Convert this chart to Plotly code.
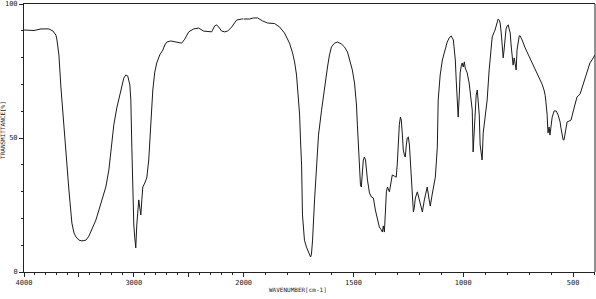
import plotly.graph_objects as go

# IR spectrum: wavenumber (cm-1) and transmittance (%)
wavenumber = [4000, 3945, 3909, 3845, 3773, 3736, 3709, 3700, 3682, 3664, 3645, 3618, 3591, 3564, 3545,
              3527, 3500, 3473, 3436, 3409, 3382, 3345, 3318, 3282, 3255, 3227, 3209, 3182, 3155, 3136,
              3109, 3091, 3073, 3055, 3036, 3027, 3018, 3009, 3000, 2991, 2982, 2973, 2964, 2955, 2945,
              2936, 2927, 2918, 2900, 2882, 2864, 2845, 2827, 2809, 2791, 2764, 2736, 2718, 2700, 2664,
              2609, 2564, 2536, 2500, 2455, 2409, 2364, 2318, 2291, 2264, 2245, 2227, 2200, 2173, 2145,
              2109, 2064, 2018, 2000,
              1973, 1955, 1936, 1914, 1891, 1859, 1836, 1814, 1791, 1777, 1768, 1759, 1755, 1745, 1741,
              1736, 1732, 1723, 1714, 1705, 1695, 1691, 1686, 1677, 1668, 1659, 1645, 1632, 1618, 1609,
              1600, 1586, 1573, 1555, 1541, 1527, 1514, 1505, 1495, 1486, 1482, 1477, 1473, 1468, 1464,
              1459, 1455, 1450, 1445, 1436, 1427, 1418, 1409, 1400, 1391, 1382, 1373, 1368, 1364, 1359,
              1355, 1350, 1345, 1336, 1327, 1323, 1314, 1305, 1300, 1295, 1291, 1286, 1282, 1277, 1273,
              1268, 1264, 1259, 1255, 1250, 1245, 1241, 1236, 1232, 1227, 1223, 1218, 1209, 1200, 1191,
              1186, 1177, 1168, 1164, 1155, 1150, 1141, 1132, 1127, 1123, 1118, 1114, 1105, 1095, 1082,
              1073, 1064, 1055, 1045, 1041, 1036, 1032, 1027, 1023, 1018, 1014, 1009, 1005, 1000, 995,
              991, 982, 973, 964, 959, 955, 950, 945, 941, 936, 932, 927, 923, 918, 914,
              909, 900, 891, 882, 877, 868, 859, 855, 845, 841, 836, 832, 827, 823, 818,
              814, 809, 805, 800, 795, 791, 786, 782, 777, 773, 768, 764, 759, 755, 750,
              745, 741, 732, 718, 705, 686, 673, 655, 641, 632, 627, 623, 618, 614, 609,
              605, 600, 595, 586, 577, 568, 559, 555, 550, 545, 541, 536, 527, 518, 509,
              500, 491, 482, 468, 459, 450, 436, 423, 414, 400]
transmittance = [90.3, 90.3, 90.1, 90.7, 90.7, 89.9, 88.4, 86.6, 81.0, 69.0, 58.6, 45.5, 30.6, 18.3, 14.6,
                 13.1, 11.9, 11.6, 11.9, 13.4, 15.7, 19.4, 23.1, 28.0, 31.7, 38.1, 45.5, 54.9, 61.2, 64.2,
                 69.4, 72.4, 73.5, 73.1, 69.8, 64.2, 46.6, 30.6, 17.5, 12.7, 9.0, 17.5, 25.0, 26.9, 23.9,
                 21.3, 26.9, 31.7, 33.2, 35.1, 41.8, 54.9, 67.9, 74.6, 78.0, 81.0, 82.8, 84.7, 85.8, 86.2,
                 85.8, 85.4, 86.9, 89.6, 90.7, 91.0, 89.9, 89.6, 89.6, 91.8, 92.2, 91.4, 89.9, 89.6, 89.9,
                 91.4, 94.0, 94.4, 94.4,
                 94.4, 94.8, 94.8, 93.7, 92.9, 92.7, 91.4, 89.2, 85.4, 81.7, 78.4, 73.5, 69.8, 58.6, 49.3,
                 39.9, 21.3, 11.9, 9.3, 7.5, 5.6, 6.7, 11.9, 26.9, 41.8, 51.1, 60.4, 69.0, 76.5, 81.0,
                 84.0, 85.4, 85.8, 85.1, 84.0, 82.1, 78.4, 75.4, 70.5, 62.3, 54.9, 45.5, 39.9, 32.5, 31.7,
                 38.8, 41.8, 42.9, 41.8, 34.3, 29.5, 28.0, 27.6, 23.1, 19.4, 16.8, 15.7, 14.9, 17.2, 14.9,
                 21.3, 29.9, 31.7, 29.9, 34.3, 36.2, 35.8, 35.4, 40.7, 49.3, 54.9, 57.8, 56.7, 51.1, 45.5,
                 43.7, 42.9, 47.4, 50.0, 50.4, 47.4, 41.8, 33.2, 26.9, 22.4, 23.9, 27.6, 29.9, 26.9, 23.1,
                 22.4, 26.9, 30.9, 31.7, 26.9, 24.6, 29.1, 33.6, 35.4, 40.3, 46.6, 64.2, 73.5, 79.1, 82.8,
                 85.8, 87.3, 88.1, 86.6, 82.8, 79.1, 71.6, 64.2, 57.8, 66.0, 74.3, 76.9, 78.0, 76.5, 78.4,
                 76.1, 74.3, 70.5, 65.3, 60.4, 44.8, 51.1, 59.3, 66.0, 67.9, 64.2, 58.6, 47.4, 43.7, 41.8,
                 51.9, 58.6, 64.2, 75.4, 80.2, 87.7, 89.6, 90.3, 93.3, 94.4, 94.0, 92.9, 89.2, 85.4, 79.9,
                 82.8, 88.4, 90.7, 91.8, 92.2, 90.7, 89.2, 84.7, 79.1, 77.2, 79.9, 77.2, 75.4, 82.8, 86.6,
                 88.1, 88.1, 86.6, 83.6, 81.3, 78.0, 75.7, 72.8, 70.1, 67.9, 66.0, 63.1, 58.6, 51.9, 54.1,
                 51.1, 54.9, 57.8, 60.1, 60.1, 58.6, 56.0, 53.7, 51.1, 49.3, 49.3, 51.5, 56.0, 56.3, 56.7,
                 59.7, 63.1, 65.3, 66.4, 68.7, 71.6, 75.4, 78.0, 79.1, 81.0]

x_hi_ticks = [4000, 3500, 3000, 2500, 2000]
x_hi_text = ["4000", "", "3000", "", "2000"]
x_lo_ticks = [1500, 1000, 500]
x_lo_text = ["1500", "1000", "500"]
y_ticks = [0, 50, 100]
y_text = ["0", "50", "100"]

W, H = 596, 299
ML, MR, MT, MB = 24, 1, 4, 27
split = 2000
pw = W - ML - MR
d_split = 220 / 572

hi_x = [w for w in wavenumber if w >= split]
hi_y = [t for w, t in zip(wavenumber, transmittance) if w >= split]
lo_x = [w for w in wavenumber if w <= split]
lo_y = [t for w, t in zip(wavenumber, transmittance) if w <= split]

line = dict(color="#1a1a1a", width=1)
font = dict(family="DejaVu Sans Mono", size=7, color="#222")

fig = go.Figure()
fig.add_trace(go.Scatter(x=hi_x, y=hi_y, mode="lines", line=line, xaxis="x", yaxis="y",
                         hoverinfo="skip", showlegend=False))
fig.add_trace(go.Scatter(x=lo_x, y=lo_y, mode="lines", line=line, xaxis="x2", yaxis="y",
                         hoverinfo="skip", showlegend=False))

axcommon = dict(showgrid=False, zeroline=False, showline=True, linecolor="#222", linewidth=1,
                ticks="outside", ticklen=4, tickcolor="#222", tickfont=font, automargin=False)

fig.update_layout(
    width=W, height=H, margin=dict(l=ML, r=MR, t=MT, b=MB, autoexpand=False),
    paper_bgcolor="white", plot_bgcolor="white",
    xaxis=dict(domain=[0, d_split], range=[4000, 2000], anchor="y", mirror=True,
               tickmode="array", tickvals=x_hi_ticks, ticktext=x_hi_text,
               minor=dict(dtick=100, ticklen=2, ticks="outside", tickcolor="#222"), **axcommon),
    xaxis2=dict(domain=[d_split, 1], range=[2000, 400], anchor="y", mirror=True,
                tickmode="array", tickvals=x_lo_ticks, ticktext=x_lo_text,
                minor=dict(tick0=0, dtick=100, ticklen=2, ticks="outside", tickcolor="#222"), **axcommon),
    yaxis=dict(range=[0, 100], tickmode="array", tickvals=y_ticks, ticktext=y_text, anchor="x",
               minor=dict(dtick=10, ticklen=2, ticks="outside", tickcolor="#222"), **axcommon),
    shapes=[dict(type="line", xref="paper", yref="paper", x0=1, x1=1, y0=0, y1=1,
                 line=dict(color="#222", width=1))],
    annotations=[
        dict(text="WAVENUMBER[cm-1]", xref="paper", yref="paper", x=(298 - ML) / pw, y=0,
             yshift=-17, xanchor="center", yanchor="middle", showarrow=False,
             font=dict(family="DejaVu Sans Mono", size=6, color="#222")),
        dict(text="TRANSMITTANCE[%]", xref="paper", yref="paper", x=0, xshift=-21, y=0.53,
             textangle=-90, xanchor="center", yanchor="middle", showarrow=False,
             font=dict(family="DejaVu Sans Mono", size=6, color="#222")),
    ],
)

fig.write_html("out.html")
